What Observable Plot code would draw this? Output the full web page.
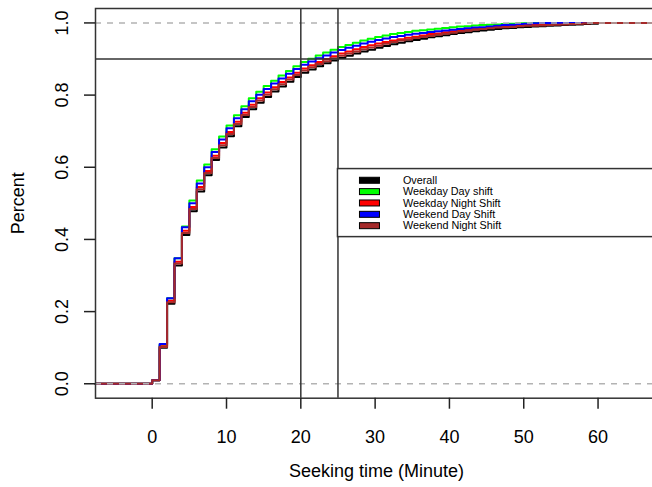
<!DOCTYPE html>
<html><head><meta charset="utf-8">
<script src="https://cdn.jsdelivr.net/npm/d3@7"></script>
<script src="https://cdn.jsdelivr.net/npm/@observablehq/plot@0.6"></script>
<style>
html,body{margin:0;padding:0;background:#fff;overflow:hidden;}
#chart svg{overflow:hidden;display:block;}
</style></head><body><div id="chart"></div>
<script>
// ECDF knots (minutes) and cumulative proportions per group
const minutes = [0,1,2,3,4,5,6,7,8,9,10,11,12,13,14,15,16,17,18,19,20,21,22,23,24,25,26,27,28,29,30,31,32,33,34,35,36,37,38,39,40,41,42,43,44,45,46,47,48,49,50,51,52,53,54,55,56,57,58,59,60];
const overall = [.010,.100,.222,.328,.412,.478,.533,.578,.620,.655,.686,.714,.739,.761,.779,.795,.810,.824,.837,.850,.862,.871,.880,.888,.896,.903,.909,.915,.921,.926,.931,.936,.941,.945,.949,.953,.956,.960,.963,.966,.969,.972,.974,.977,.979,.981,.983,.985,.986,.988,.989,.990,.991,.992,.993,.994,.995,.996,.997,.998,1];
const weekdayDay = [.010,.108,.237,.348,.436,.508,.563,.608,.650,.685,.716,.744,.769,.791,.809,.825,.840,.854,.867,.880,.892,.901,.910,.918,.926,.933,.939,.945,.951,.956,.961,.965,.969,.972,.975,.978,.980,.982,.984,.986,.988,.990,.991,.993,.994,.995,.996,.997,.998,.999,.999,1,1,1,1,1,1,1,1,1,1];
const weekdayNight = [.010,.104,.230,.338,.424,.490,.545,.590,.632,.667,.698,.726,.751,.773,.791,.807,.822,.836,.849,.862,.874,.883,.892,.900,.908,.915,.921,.927,.933,.938,.943,.947,.951,.955,.959,.962,.965,.969,.971,.974,.977,.980,.982,.984,.986,.988,.989,.991,.992,.993,.994,.995,.996,.997,.997,.998,.998,.999,.999,1,1];
const weekendDay = [.010,.110,.237,.348,.434,.500,.555,.600,.642,.677,.708,.736,.761,.783,.801,.817,.832,.846,.859,.872,.884,.893,.902,.910,.918,.925,.931,.937,.943,.948,.953,.957,.961,.964,.967,.970,.972,.975,.977,.979,.981,.983,.985,.987,.988,.990,.992,.994,.995,.997,.998,.999,1,1,1,1,1,1,1,1,1];
const weekendNight = [.010,.102,.226,.333,.418,.484,.539,.584,.626,.661,.692,.720,.745,.767,.785,.801,.816,.830,.843,.856,.868,.877,.886,.894,.902,.909,.915,.921,.927,.932,.937,.942,.947,.951,.954,.958,.961,.964,.967,.970,.973,.976,.978,.981,.983,.985,.987,.988,.989,.991,.992,.992,.993,.994,.995,.996,.997,.998,.999,1,1];

const seriesNames = ["Overall","Weekday Day shift","Weekday Night Shift","Weekend Day Shift","Weekend Night Shift"];
const seriesValues = [overall, weekdayDay, weekdayNight, weekendDay, weekendNight];
const seriesColors = ["#000000","#00ff00","#ff0000","#0000ff","#a52a2a"];

const xTicks = [0,10,20,30,40,50,60];
const yTicks = [0,0.2,0.4,0.6,0.8,1.0];
const xLim = [-7.63, 68.0];
const yLim = [-0.04, 1.04];
const refX = [20, 25];
const refY = [0.9];
const baseY = [0, 1];
const legendAt = {x: 25, y: 0.595};

const FONT = "'Liberation Sans', Arial, Helvetica, sans-serif";
const FS = 18;

const rows = [];
seriesNames.forEach((name, i) => {
  rows.push({series: name, x: xLim[0], y: 0});
  minutes.forEach((m, j) => rows.push({series: name, x: m, y: seriesValues[i][j]}));
  rows.push({series: name, x: xLim[1], y: 1});
});

const chart = Plot.plot({
  width: 652,
  height: 487,
  marginLeft: 95,
  marginRight: -5,
  marginTop: 8,
  marginBottom: 89.3,
  style: {fontFamily: FONT, fontSize: FS + "px", color: "#000", background: "#fff"},
  x: {domain: xLim, axis: null, label: null},
  y: {domain: yLim, axis: null, label: null},
  color: {domain: seriesNames, range: seriesColors},
  marks: [
    Plot.line(rows, {x: "x", y: "y", z: "series", stroke: "series", curve: "step-after", strokeWidth: 2}),
    Plot.ruleY(baseY, {stroke: "#b3b3b3", strokeWidth: 1.5, strokeDasharray: "6,6"}),
    Plot.ruleX(refX, {stroke: "#333", strokeWidth: 1.5}),
    Plot.ruleY(refY, {stroke: "#333", strokeWidth: 1.5}),
    Plot.frame({stroke: "#333", strokeWidth: 1.5}),
    Plot.axisX({ticks: xTicks, tickSize: 11, tickPadding: 21, strokeWidth: 1.5, stroke: "#222", fontSize: FS, label: null, tickFormat: d => String(d)}),
    Plot.axisY({ticks: yTicks, tickSize: 11, strokeWidth: 1.5, stroke: "#222", label: null, tickFormat: () => ""}),
    Plot.text(yTicks, {y: d => d, frameAnchor: "left", dx: -33, rotate: -90, textAnchor: "middle", lineAnchor: "middle", text: d => d.toFixed(1), fontSize: FS, fill: "#000"}),
    Plot.text(["Percent"], {frameAnchor: "left", dx: -77, rotate: -90, textAnchor: "middle", lineAnchor: "middle", text: d => d, fontSize: FS, fill: "#000"}),
    Plot.text(["Seeking time (Minute)"], {frameAnchor: "bottom", dy: 73, textAnchor: "middle", lineAnchor: "middle", text: d => d, fontSize: FS, fill: "#000"})
  ]
});

document.getElementById("chart").appendChild(chart);

// Legend box placed at (25, 0.6) in data coordinates like R's legend(x, y)
const sx = chart.scale("x"), sy = chart.scale("y");
const lx = sx.apply(legendAt.x), ly = sy.apply(legendAt.y);
const svg = d3.select(chart);
const g = svg.append("g").attr("font-family", FONT).attr("font-size", 10.8).attr("text-anchor", "start");
const rowH = 11.35;
g.append("rect").attr("x", lx).attr("y", ly).attr("width", 400).attr("height", rowH * seriesNames.length + 11.3)
  .attr("fill", "#fff").attr("stroke", "#333").attr("stroke-width", 1.5);
seriesNames.forEach((name, i) => {
  const cy = ly + 11.7 + i * rowH;
  g.append("rect").attr("x", lx + 22).attr("y", cy - 3).attr("width", 20).attr("height", 6)
    .attr("fill", seriesColors[i]).attr("stroke", "#000").attr("stroke-width", 1);
  g.append("text").attr("x", lx + 65.5).attr("y", cy).attr("dy", "0.35em").attr("text-anchor", "start").attr("fill", "#000").text(name);
});
</script></body></html>
